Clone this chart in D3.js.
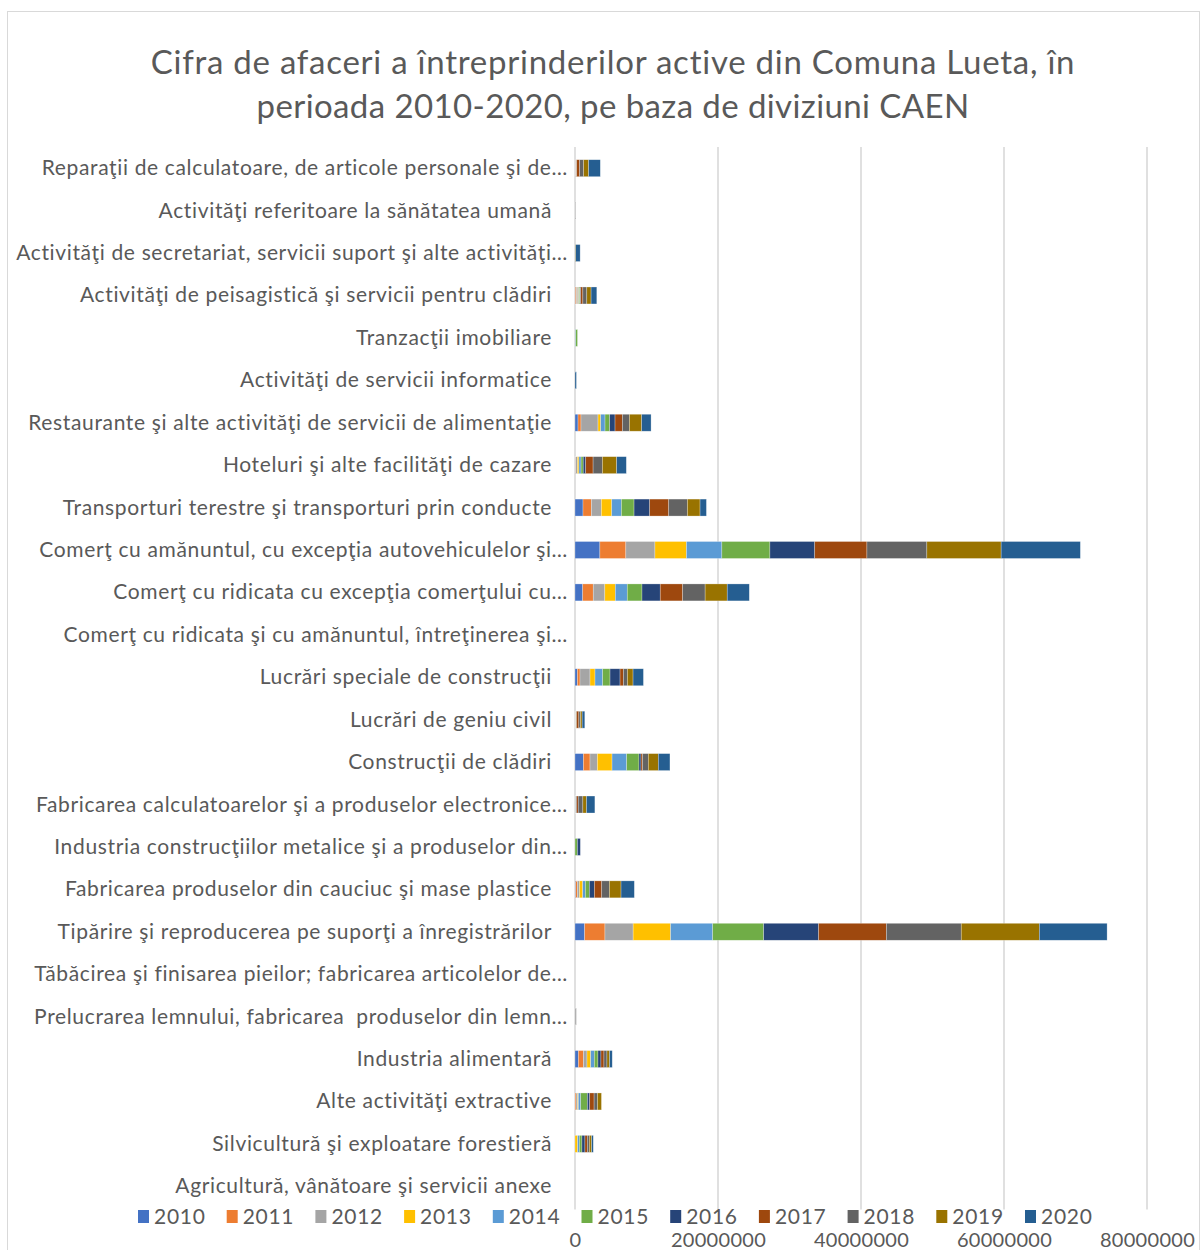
<!DOCTYPE html>
<html>
<head>
<meta charset="utf-8">
<script src="https://cdn.jsdelivr.net/npm/d3@7"></script>
<style>
  html, body { margin: 0; padding: 0; background: #fff; }
  svg { display: block; }
  text { font-family: Lato, "Open Sans", sans-serif; fill: #595959; }
</style>
</head>
<body>
<svg id="chart" width="1201" height="1250"></svg>
<script>
// Categories, listed top to bottom as displayed
const categories = [
  "Reparaţii de calculatoare, de articole personale şi de…",
  "Activităţi referitoare la sănătatea umană",
  "Activităţi de secretariat, servicii suport şi alte activităţi…",
  "Activităţi de peisagistică şi servicii pentru clădiri",
  "Tranzacţii imobiliare",
  "Activităţi de servicii informatice",
  "Restaurante şi alte activităţi de servicii de alimentaţie",
  "Hoteluri şi alte facilităţi de cazare",
  "Transporturi terestre şi transporturi prin conducte",
  "Comerţ cu amănuntul, cu excepţia autovehiculelor şi…",
  "Comerţ cu ridicata cu excepţia comerţului cu…",
  "Comerţ cu ridicata şi cu amănuntul, întreţinerea şi…",
  "Lucrări speciale de construcţii",
  "Lucrări de geniu civil",
  "Construcţii de clădiri",
  "Fabricarea calculatoarelor şi a produselor electronice…",
  "Industria construcţiilor metalice şi a produselor din…",
  "Fabricarea produselor din cauciuc şi mase plastice",
  "Tipărire şi reproducerea pe suporţi a înregistrărilor",
  "Tăbăcirea şi finisarea pieilor; fabricarea articolelor de…",
  "Prelucrarea lemnului, fabricarea  produselor din lemn…",
  "Industria alimentară",
  "Alte activităţi extractive",
  "Silvicultură şi exploatare forestieră",
  "Agricultură, vânătoare şi servicii anexe"
];

const years = ["2010","2011","2012","2013","2014","2015","2016","2017","2018","2019","2020"];

// Series values (lei), one per year, aligned with categories
const s2010 = [50000,0,0,50000,0,0,420000,50000,1120000,3480000,1080000,0,330000,30000,1170000,20000,0,100000,1350000,0,0,470000,0,0,0];
const s2011 = [50000,0,0,150000,0,0,420000,50000,1170000,3630000,1470000,0,370000,30000,930000,20000,0,230000,2840000,0,0,700000,140000,0,0];
const s2012 = [50000,100000,0,200000,0,0,2380000,250000,1400000,4070000,1620000,0,1400000,30000,1030000,20000,0,300000,3940000,0,200000,510000,230000,0,0];
const s2013 = [20000,0,0,100000,0,0,370000,200000,1450000,4410000,1470000,0,700000,30000,2050000,20000,0,450000,5240000,0,0,510000,100000,370000,0];
const s2014 = [20000,0,0,100000,100000,0,610000,300000,1350000,4950000,1670000,0,1070000,30000,2050000,20000,0,370000,5890000,0,0,510000,330000,230000,0];
const s2015 = [20000,0,0,100000,250000,0,650000,300000,1770000,6720000,2060000,0,1030000,30000,1720000,20000,330000,560000,7130000,0,0,510000,930000,370000,0];
const s2016 = [20000,0,0,100000,0,0,750000,350000,2190000,6270000,2550000,0,1400000,30000,280000,100000,420000,700000,7680000,0,0,420000,330000,420000,0];
const s2017 = [420000,0,0,300000,0,0,1030000,1030000,2660000,7300000,3140000,0,470000,330000,230000,230000,0,1030000,9480000,0,0,420000,610000,330000,0];
const s2018 = [560000,0,0,550000,0,0,980000,1300000,2610000,8380000,3140000,0,560000,230000,790000,650000,0,1070000,10470000,0,0,420000,470000,280000,0];
const s2019 = [700000,0,100000,600000,0,0,1720000,2000000,1770000,10390000,3090000,0,790000,230000,1400000,510000,0,1630000,10920000,0,0,370000,560000,330000,0];
const s2020 = [1630000,0,620000,800000,0,200000,1310000,1350000,890000,11080000,3090000,0,1450000,370000,1630000,1170000,0,1860000,9480000,0,0,370000,0,230000,0];

const xTicks = [0, 20000000, 40000000, 60000000, 80000000];

const colors = ["#4472C4","#ED7D31","#A5A5A5","#FFC000","#5B9BD5","#70AD47","#264478","#9E480E","#636363","#997300","#255E91"];

const series = [s2010,s2011,s2012,s2013,s2014,s2015,s2016,s2017,s2018,s2019,s2020];

// Build table for stacking
const table = categories.map((c, i) => {
  const row = { category: c };
  years.forEach((y, j) => { row[y] = series[j][i]; });
  return row;
});
const stacked = d3.stack().keys(years)(table);

const svg = d3.select("#chart");

// Outer border
svg.append("rect")
  .attr("x", 7.5).attr("y", 11.5)
  .attr("width", 1192).attr("height", 1250)
  .attr("fill", "none").attr("stroke", "#d9d9d9").attr("stroke-width", 1);

const plotTop = 147, plotBottom = 1207.5;
const x = d3.scaleLinear().domain([0, 80000000]).range([575, 1147]);
const y = d3.scaleBand().domain(categories).range([plotTop, plotBottom])
  .paddingInner(0.6).paddingOuter(0.3);

// Title
const title = svg.append("text")
  .attr("text-anchor", "middle")
  .style("font-size", "33px")
  .style("letter-spacing", "0.75px");
title.append("tspan").attr("x", 613).attr("y", 74)
  .text("Cifra de afaceri a întreprinderilor active din Comuna Lueta, în");
title.append("tspan").attr("x", 613).attr("y", 118)
  .style("letter-spacing", "0.4px")
  .text("perioada 2010-2020, pe baza de diviziuni CAEN");

// Gridlines
const xAxis = d3.axisBottom(x).tickValues(xTicks).tickFormat(d3.format("d")).tickSize(0);
svg.append("g")
  .selectAll("line.grid")
  .data(xTicks)
  .join("line")
  .attr("x1", d => x(d)).attr("x2", d => x(d))
  .attr("y1", plotTop).attr("y2", plotBottom + 2)
  .attr("stroke", "#d9d9d9")
  .attr("stroke-width", 1.6);

// Bars
svg.append("g")
  .selectAll("g")
  .data(stacked)
  .join("g")
  .attr("fill", (d, i) => colors[i])
  .selectAll("rect")
  .data(d => d.filter(s => s[1] - s[0] > 0))
  .join("rect")
  .attr("x", d => x(d[0]))
  .attr("width", d => x(d[1]) - x(d[0]))
  .attr("y", d => y(d.data.category))
  .attr("height", y.bandwidth())
  .attr("stroke", "#ffffff")
  .attr("stroke-opacity", 0.45)
  .attr("stroke-width", 0.6);

// Category labels
svg.append("g")
  .selectAll("text")
  .data(categories)
  .join("text")
  .attr("text-anchor", "end")
  .attr("x", d => d.endsWith("…") ? 568 : 552)
  .attr("y", d => y(d) + y.bandwidth() / 2 + 7)
  .style("font-size", "21px")
  .style("letter-spacing", "0.65px")
  .style("white-space", "pre")
  .text(d => d);

// X axis tick labels
const axisG = svg.append("g")
  .attr("transform", `translate(0, 1230)`)
  .call(xAxis);
axisG.select(".domain").remove();
axisG.selectAll("text")
  .style("font-size", "20px")
  .style("letter-spacing", "0.3px")
  .style("font-family", "Lato, 'Open Sans', sans-serif")
  .attr("fill", "#595959");

// Legend
const legend = svg.append("g").attr("transform", "translate(138, 1210)");
const li = legend.selectAll("g")
  .data(years)
  .join("g")
  .attr("transform", (d, i) => `translate(${i * 88.7}, 0)`);
li.append("rect")
  .attr("width", 11).attr("height", 13)
  .attr("fill", (d, i) => colors[i]);
li.append("text")
  .attr("x", 16).attr("y", 14)
  .style("font-size", "21px")
  .style("letter-spacing", "0.7px")
  .text(d => d);
</script>
</body>
</html>
